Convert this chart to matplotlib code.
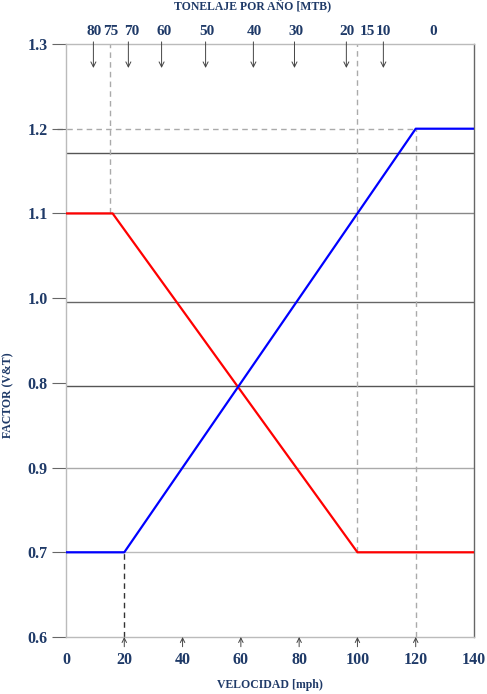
import matplotlib.pyplot as plt
from matplotlib.transforms import blended_transform_factory

# velocidad [mph] vs factor
vel_azul = [0, 20, 120, 140]
fac_azul = [0.7, 0.7, 1.2, 1.2]
vel_rojo = [0, 16, 100, 140]
fac_rojo = [1.1, 1.1, 0.7, 0.7]

# eje Y: posiciones y etiquetas (tal como aparecen en la figura)
y_pos = [0.6, 0.7, 0.8, 0.9, 1.0, 1.1, 1.2, 1.3]
y_etiquetas = ['0.6', '0.7', '0.9', '0.8', '1.0', '1.1', '1.2', '1.3']
x_pos = [0, 20, 40, 60, 80, 100, 120, 140]

# lineas horizontales de la reticula
grid_y = [1.171, 1.1, 0.995, 0.8965, 0.8, 0.7]
grid_color = ['#555555', '#888888', '#666666', '#555555', '#aaaaaa', '#bbbbbb']

# tonelaje por año: etiqueta, posicion de la etiqueta y de la flecha
ton_etiquetas = ['80', '75', '70', '60', '50', '40', '30', '20', '15', '10', '0']
ton_x_texto = [9.8, 15.2, 22.5, 33.5, 48.5, 64.5, 79, 96.5, 103.5, 108.8, 126]
ton_x_flecha = [9.4, None, 21.4, 32.8, 47.9, 64.3, 78.4, 96.2, None, 108.9, None]

flechas_vel = [20, 40, 60, 80, 100, 120]

azul_osc = '#1F3A68'
fuente = 'Liberation Serif'

fig = plt.figure(figsize=(4.87, 6.94), dpi=100)
ax = fig.add_axes([66/487, 57/694, 408/487, 593/694])
ax.set_xlim(0, 140)
ax.set_ylim(0.6, 1.3)

for yv, c in zip(grid_y, grid_color):
    ax.plot([0, 140], [yv, yv], color=c, lw=1, zorder=1)

# lineas de referencia punteadas
gris_disc = '#aaaaaa'
ax.plot([15, 15], [1.1, 1.3], color=gris_disc, lw=1, ls=(0, (4, 3)), zorder=1)
ax.plot([100, 100], [0.7, 1.3], color=gris_disc, lw=1, ls=(0, (4, 3)), zorder=1)
ax.plot([120, 120], [0.6, 1.2], color=gris_disc, lw=1, ls=(0, (4, 3)), zorder=1)
ax.plot([-3, 120], [1.2, 1.2], color=gris_disc, lw=1, ls=(0, (4, 3)), zorder=1, clip_on=False)
ax.plot([20, 20], [0.6, 0.7], color='#333333', lw=1, ls=(0, (4, 3)), zorder=1)

ax.plot(vel_rojo, fac_rojo, color='#ff0000', lw=1.6, zorder=3)
ax.plot(vel_azul, fac_azul, color='#0000ff', lw=1.6, zorder=3)

# flechas inferiores (debajo del eje, apuntando hacia arriba)
for xv in flechas_vel:
    ax.annotate('', xy=(xv, 0.6), xytext=(0, -7), textcoords='offset points',
                annotation_clip=False,
                arrowprops=dict(arrowstyle='->', color='#444444', lw=0.7,
                                mutation_scale=8, shrinkA=0, shrinkB=0))

# flechas y etiquetas superiores
tr = blended_transform_factory(ax.transData, ax.transAxes)
for lab, xt, xf in zip(ton_etiquetas, ton_x_texto, ton_x_flecha):
    ax.text(xt, 1.021, lab, transform=tr, ha='center', va='center',
            fontsize=11, fontweight='bold', color=azul_osc, family=fuente)
    if xf is not None:
        ax.annotate('', xy=(xf, 1.2717), xytext=(xf, 1.3025),
                    annotation_clip=False,
                    arrowprops=dict(arrowstyle='->', color='#444444', lw=0.7,
                                    mutation_scale=9, shrinkA=0, shrinkB=0))

ax.spines['left'].set_color('#bbbbbb')
ax.spines['top'].set_color('#bbbbbb')
ax.spines['bottom'].set_color('#bbbbbb')
ax.spines['right'].set_color('#666666')
for s in ax.spines.values():
    s.set_linewidth(1)

ax.set_yticks(y_pos)
ax.set_yticklabels(y_etiquetas)
ax.set_xticks(x_pos)
ax.tick_params(axis='y', length=10, color='#666666', width=0.8, pad=3)
ax.tick_params(axis='x', length=0, pad=11)
for t in ax.get_xticklabels() + ax.get_yticklabels():
    t.set_fontfamily(fuente)
    t.set_fontweight('bold')
    t.set_fontsize(11.5)
    t.set_color(azul_osc)

fig.text(253/487, 1 - 7/694, 'TONELAJE POR AÑO [MTB)', ha='center', va='center',
         fontsize=8.5, fontweight='bold', color=azul_osc, family=fuente)
fig.text(270/487, 1 - 685/694, 'VELOCIDAD [mph)', ha='center', va='center',
         fontsize=8.5, fontweight='bold', color=azul_osc, family=fuente)
fig.text(8/487, 1 - 395/694, 'FACTOR (V&T)', ha='center', va='center', rotation=90,
         fontsize=8.5, fontweight='bold', color=azul_osc, family=fuente)

plt.savefig('out.png', dpi=100)
